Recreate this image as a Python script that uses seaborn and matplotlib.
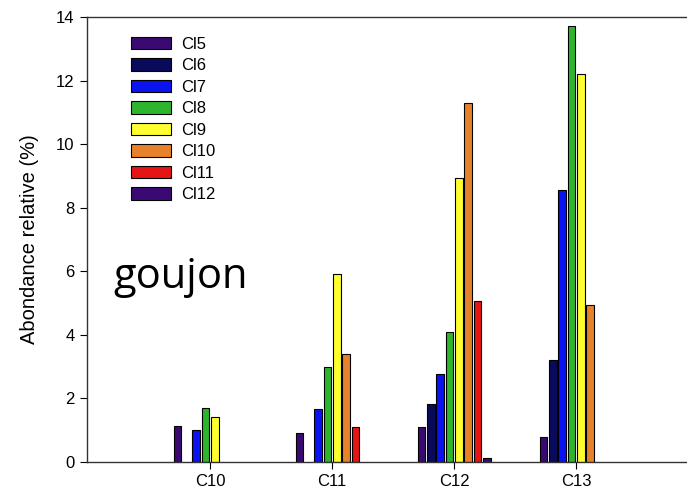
import matplotlib
matplotlib.use("Agg")
import matplotlib.pyplot as plt
import matplotlib.transforms as mtrans
import seaborn as sns
import numpy as np
import pandas as pd

categories = ["C10", "C11", "C12", "C13"]
series = ["Cl5", "Cl6", "Cl7", "Cl8", "Cl9", "Cl10", "Cl11", "Cl12"]
nan = np.nan
cl5 = [1.14, 0.90, 1.11, 0.79]
cl6 = [nan, nan, 1.83, 3.21]
cl7 = [1.02, 1.68, 2.76, 8.55]
cl8 = [1.71, 3.00, 4.09, 13.71]
cl9 = [1.42, 5.93, 8.95, 12.22]
cl10 = [nan, 3.40, 11.29, 4.94]
cl11 = [nan, 1.10, 5.08, nan]
cl12 = [nan, nan, 0.14, nan]
colors = ["#3a0a72", "#0a0a5c", "#0a14f0", "#2eb52e", "#ffff30", "#e8822a", "#e51515", "#3a0a72"]

values = [cl5, cl6, cl7, cl8, cl9, cl10, cl11, cl12]
rows = []
for s, vals in zip(series, values):
    for c, v in zip(categories, vals):
        rows.append({"cat": c, "series": s, "val": v})
df = pd.DataFrame(rows)

sns.set_style("ticks")
plt.rcParams['font.family'] = ['Liberation Sans', 'DejaVu Sans']
plt.rcParams['text.color'] = 'black'

fig = plt.figure(figsize=(6.87, 4.96), dpi=100)
ax = fig.add_axes([87/687, 34/496, 600/687, 445/496])
sns.barplot(data=df, x="cat", y="val", hue="series", order=categories,
            hue_order=series, palette=dict(zip(series, colors)),
            width=0.61, gap=0.18, edgecolor="black", linewidth=0.8,
            ax=ax, saturation=1, legend=True)

ax.set_xlim(-1.01, -1.01 + 600/122)
ax.set_ylim(0, 14)
ax.set_yticks(np.arange(0, 15, 2))
ax.set_xlabel("")
ax.set_ylabel("Abondance relative (%)", fontsize=14.5, labelpad=12, color="black")
ax.tick_params(axis="both", labelsize=12, direction="out", length=5, width=0.8,
               colors="black", pad=4)
for sp in ["left", "bottom", "top"]:
    ax.spines[sp].set_visible(True)
    ax.spines[sp].set_linewidth(1.0)
    ax.spines[sp].set_color("#333333")
ax.spines["right"].set_visible(False)

leg = ax.legend(loc="upper left", bbox_to_anchor=(0.062, 0.971), frameon=False,
                fontsize=12, handlelength=2.4, handleheight=0.8,
                labelspacing=0.38, handletextpad=0.6, borderaxespad=0)

t = ax.text(113, 496 - 277, "goujon", transform=mtrans.IdentityTransform(),
            fontsize=30, family="Open Sans", va="center", ha="left", color="black")

fig.savefig("out.png", dpi=100)
